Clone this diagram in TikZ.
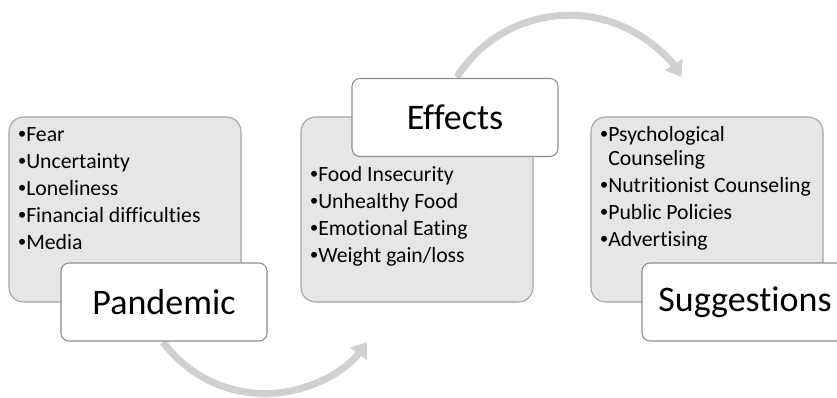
\documentclass[tikz,border=0pt]{standalone}
\usepackage{fontspec}
\setmainfont{Carlito}[Ligatures=CommonOff]
\newfontfamily\bulfont{Liberation Sans}
\usetikzlibrary{arrows.meta}
\definecolor{boxgrey}{HTML}{E6E6E6}
\definecolor{panelline}{HTML}{A3A3A3}
\definecolor{titleline}{HTML}{8C8C8C}
\definecolor{arrowgrey}{HTML}{D0D0D0}
\newcommand\bul{\makebox[6pt][l]{\bulfont •}}
\newcommand\hang{\hspace*{6pt}}
\begin{document}
\begin{tikzpicture}[x=0.75pt,y=-0.75pt,
  panel/.style={draw=panelline, fill=boxgrey, rounded corners=11pt, line width=0.8pt,
    minimum width=174pt, minimum height=138.75pt, inner sep=0pt},
  title/.style={draw=titleline, fill=white, rounded corners=6pt, line width=0.8pt,
    minimum width=154.5pt, minimum height=58.5pt, inner sep=0pt,
    font=\fontsize{27}{32}\selectfont},
  items/.style={anchor=base west, inner sep=0pt, font=\fontsize{16.3}{18}\selectfont},
  flow/.style={draw=arrowgrey, line width=5.25pt, -{Triangle[length=11pt,width=15pt]}}
]
\useasboundingbox (0,0) rectangle (837,398);
\clip (0,0) rectangle (837,398);
% connectors (behind the boxes)
\coordinate (a1s) at (163,342);
\coordinate (a2s) at (457,77);
\draw[flow] (a1s) arc[start angle=143.6, end angle=36.4, radius=126.8];
\draw[flow] (a2s) arc[start angle=212.4, end angle=327.6, radius=133];
% panels
\node[panel] (pandpanel) at (125,209.5) {};
\node[panel] (effpanel) at (417,209.5) {};
\node[panel] (sugpanel) at (707,209.5) {};
% lists
\node[items] (pandlist) at (18,142) {\begin{tabular}[t]{@{}l@{}}
  \bul Fear\\[2.25pt]
  \bul Uncertainty\\[2.25pt]
  \bul Loneliness\\[2.25pt]
  \bul Financial difficulties\\[2.25pt]
  \bul Media
  \end{tabular}};
\node[items] (efflist) at (310,182) {\begin{tabular}[t]{@{}l@{}}
  \bul Food Insecurity\\[2.25pt]
  \bul Unhealthy Food\\[2.25pt]
  \bul Emotional Eating\\[2.25pt]
  \bul Weight gain/loss
  \end{tabular}};
\node[items] (suglist) at (600,142) {\begin{tabular}[t]{@{}l@{}}
  \bul Psychological\\
  \hang Counseling\\[2.25pt]
  \bul Nutritionist Counseling\\[2.25pt]
  \bul Public Policies\\[2.25pt]
  \bul Advertising
  \end{tabular}};
% titles
\node[title] (pand) at (164,302) {Pandemic};
\node[title] (eff) at (455,117.5) {Effects};
\node[title] (sug) at (745,302) {Suggestions};
\end{tikzpicture}
\end{document}
